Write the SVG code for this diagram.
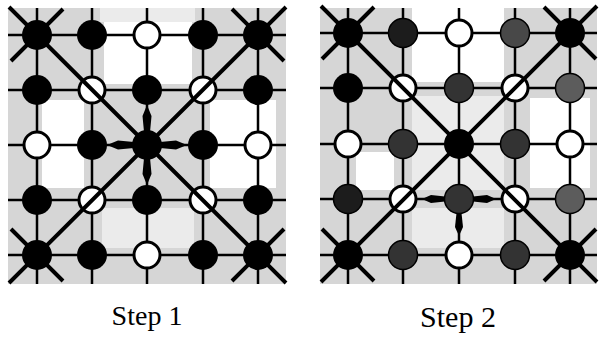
<svg xmlns="http://www.w3.org/2000/svg" width="599" height="345" viewBox="0 0 599 345">
<style>
.bg{fill:#d6d6d6}
.wp{fill:#ffffff}
.lp{fill:#ebebeb}
.g{stroke:#000;stroke-width:2.5;fill:none}
.d{stroke:#000;stroke-width:4;fill:none;stroke-linecap:butt}
.b{fill:#000}
.w{fill:#fff;stroke:#000;stroke-width:3}
.dg{fill:#333;stroke:#000;stroke-width:1.5}
.dk{fill:#1c1c1c;stroke:#000;stroke-width:1.5}
.mg{fill:#484848;stroke:#000;stroke-width:1.5}
.lg{fill:#5c5c5c;stroke:#000;stroke-width:1.5}
.ar{fill:#000}
.t{font-family:"Liberation Serif","Times New Roman",serif;fill:#000;text-anchor:middle}
</style>
<defs>
<path id="a1" d="M13,-3 L29,-4.5 L40,0 L29,4.5 L13,3 Z"/>
<path id="a2" d="M14,-2.5 L28,-4 L37,0 L28,4 L14,2.5 Z"/>
</defs>

<g id="shading">
<rect class="bg" x="8" y="8" width="278" height="276"/>
<rect class="lp" x="100" y="8" width="95" height="14"/>
<rect class="wp" x="104" y="22" width="88" height="62"/>
<rect class="wp" x="42" y="100" width="42" height="88"/>
<rect class="wp" x="210" y="100" width="66" height="88"/>
<rect class="lp" x="102" y="208" width="92" height="40"/>
<rect class="bg" x="320" y="8" width="277" height="276"/>
<rect class="wp" x="412" y="8" width="92" height="74"/>
<rect class="lp" x="412" y="96" width="92" height="94"/>
<rect class="wp" x="356" y="152" width="38" height="38"/>
<rect class="wp" x="530" y="98" width="60" height="90"/>
<rect class="lp" x="412" y="208" width="92" height="40"/>
</g>

<g id="connectors">
<path class="g" d="M8,35H286M8,90H286M8,145H286M8,200H286M8,255H286M37,8V284M92,8V284M147,8V284M203,8V284M258,8V284"/>
<path class="g" d="M320,33H597M320,88H597M320,144H597M320,199H597M320,255H597M348,8V284M403,8V284M459,8V284M515,8V284M570,8V284"/>
</g>

<g id="s1-r0c0"><circle class="b" cx="37" cy="35" r="15"/></g>
<g id="s1-r0c1"><circle class="b" cx="92" cy="35" r="15"/></g>
<g id="s1-r0c2"><circle class="w" cx="147" cy="35" r="13"/></g>
<g id="s1-r0c3"><circle class="b" cx="203" cy="35" r="15"/></g>
<g id="s1-r0c4"><circle class="b" cx="258" cy="35" r="15"/></g>
<g id="s1-r1c0"><circle class="b" cx="37" cy="90" r="15"/></g>
<g id="s1-r1c1"><circle class="w" cx="92" cy="90" r="13"/></g>
<g id="s1-r1c2"><circle class="b" cx="147" cy="90" r="15"/></g>
<g id="s1-r1c3"><circle class="w" cx="203" cy="90" r="13"/></g>
<g id="s1-r1c4"><circle class="b" cx="258" cy="90" r="15"/></g>
<g id="s1-r2c0"><circle class="w" cx="37" cy="145" r="13"/></g>
<g id="s1-r2c1"><circle class="b" cx="92" cy="145" r="15"/></g>
<g id="s1-r2c2"><circle class="b" cx="147" cy="145" r="15"/></g>
<g id="s1-r2c3"><circle class="b" cx="203" cy="145" r="15"/></g>
<g id="s1-r2c4"><circle class="w" cx="258" cy="145" r="13"/></g>
<g id="s1-r3c0"><circle class="b" cx="37" cy="200" r="15"/></g>
<g id="s1-r3c1"><circle class="w" cx="92" cy="200" r="13"/></g>
<g id="s1-r3c2"><circle class="b" cx="147" cy="200" r="15"/></g>
<g id="s1-r3c3"><circle class="w" cx="203" cy="200" r="13"/></g>
<g id="s1-r3c4"><circle class="b" cx="258" cy="200" r="15"/></g>
<g id="s1-r4c0"><circle class="b" cx="37" cy="255" r="15"/></g>
<g id="s1-r4c1"><circle class="b" cx="92" cy="255" r="15"/></g>
<g id="s1-r4c2"><circle class="w" cx="147" cy="255" r="13"/></g>
<g id="s1-r4c3"><circle class="b" cx="203" cy="255" r="15"/></g>
<g id="s1-r4c4"><circle class="b" cx="258" cy="255" r="15"/></g>

<g id="s2-r0c0"><circle class="b" cx="348" cy="33" r="15"/></g>
<g id="s2-r0c1"><circle class="dk" cx="403" cy="33" r="14.5"/></g>
<g id="s2-r0c2"><circle class="w" cx="459" cy="33" r="13"/></g>
<g id="s2-r0c3"><circle class="mg" cx="515" cy="33" r="14.5"/></g>
<g id="s2-r0c4"><circle class="b" cx="570" cy="33" r="15"/></g>
<g id="s2-r1c0"><circle class="b" cx="348" cy="88" r="15"/></g>
<g id="s2-r1c1"><circle class="w" cx="403" cy="88" r="13"/></g>
<g id="s2-r1c2"><circle class="dg" cx="459" cy="88" r="14.5"/></g>
<g id="s2-r1c3"><circle class="w" cx="515" cy="88" r="13"/></g>
<g id="s2-r1c4"><circle class="lg" cx="570" cy="88" r="14.5"/></g>
<g id="s2-r2c0"><circle class="w" cx="348" cy="144" r="13"/></g>
<g id="s2-r2c1"><circle class="dg" cx="403" cy="144" r="14.5"/></g>
<g id="s2-r2c2"><circle class="b" cx="459" cy="144" r="15"/></g>
<g id="s2-r2c3"><circle class="dg" cx="515" cy="144" r="14.5"/></g>
<g id="s2-r2c4"><circle class="w" cx="570" cy="144" r="13"/></g>
<g id="s2-r3c0"><circle class="dk" cx="348" cy="199" r="14.5"/></g>
<g id="s2-r3c1"><circle class="w" cx="403" cy="199" r="13"/></g>
<g id="s2-r3c2"><circle class="dg" cx="459" cy="199" r="14.5"/></g>
<g id="s2-r3c3"><circle class="w" cx="515" cy="199" r="13"/></g>
<g id="s2-r3c4"><circle class="lg" cx="570" cy="199" r="14.5"/></g>
<g id="s2-r4c0"><circle class="b" cx="348" cy="255" r="15"/></g>
<g id="s2-r4c1"><circle class="dg" cx="403" cy="255" r="14.5"/></g>
<g id="s2-r4c2"><circle class="w" cx="459" cy="255" r="13"/></g>
<g id="s2-r4c3"><circle class="dg" cx="515" cy="255" r="14.5"/></g>
<g id="s2-r4c4"><circle class="b" cx="570" cy="255" r="15"/></g>

<g id="diagonals">
<path class="d" d="M9,7L286,283M286,7L9,283M37,35L63,9M37,35L11,61M258,35L232,9M258,35L284,61M37,255L11,229M37,255L63,281M258,255L284,229M258,255L232,281"/>
<path class="d" d="M321,6L597,282M597,6L321,282M348,33L374,7M348,33L322,59M570,33L544,7M570,33L596,59M348,255L322,229M348,255L374,281M570,255L596,229M570,255L544,281"/>
</g>

<g id="arrows">
<use href="#a1" class="ar" transform="translate(147,145)"/>
<use href="#a1" class="ar" transform="translate(147,145) rotate(90)"/>
<use href="#a1" class="ar" transform="translate(147,145) rotate(180)"/>
<use href="#a1" class="ar" transform="translate(147,145) rotate(270)"/>
<use href="#a2" class="ar" transform="translate(459,199)"/>
<use href="#a2" class="ar" transform="translate(459,199) rotate(90)"/>
<use href="#a2" class="ar" transform="translate(459,199) rotate(180)"/>
</g>

<g id="labels">
<text class="t" x="147" y="325" font-size="28">Step 1</text>
<text class="t" x="458" y="327" font-size="30">Step 2</text>
</g>
</svg>
